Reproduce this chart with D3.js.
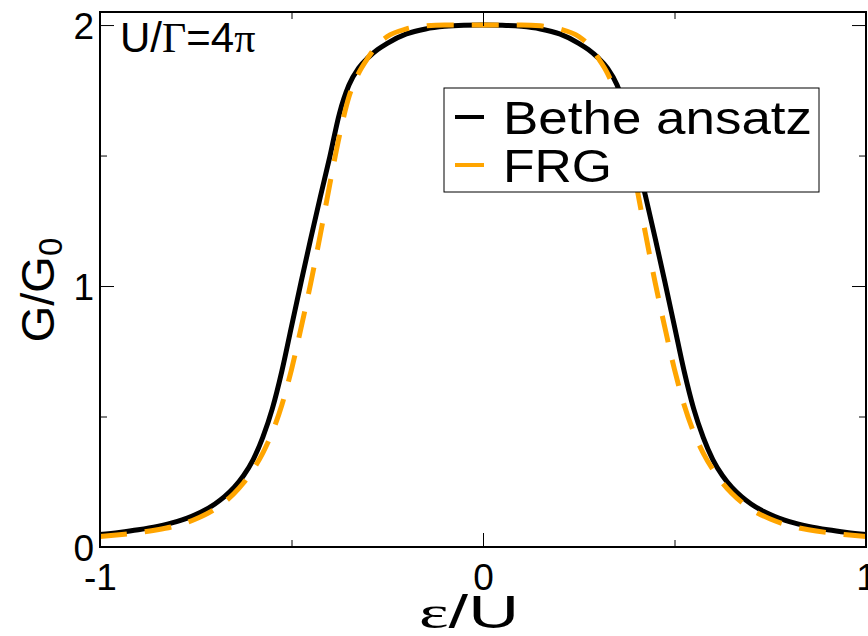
<!DOCTYPE html>
<html>
<head>
<meta charset="utf-8">
<script src="https://cdn.jsdelivr.net/npm/d3@7"></script>
<style>
  body { margin: 0; background: #fff; }
  svg text { font-family: "Liberation Sans", Arial, sans-serif; }
  .greek { font-family: "Liberation Serif", "Times New Roman", serif; }
</style>
</head>
<body>
<div id="chart"></div>
<script>
// values (the curves are symmetric about eps = 0)
var epsBethe = [-1.000, -0.950, -0.900, -0.850, -0.800, -0.750, -0.700, -0.675, -0.650, -0.625,
                -0.600, -0.575, -0.550, -0.525, -0.500, -0.475, -0.450, -0.425, -0.400, -0.375,
                -0.350, -0.325, -0.300, -0.275, -0.250, -0.200, -0.150, -0.100, -0.050, 0.000,
                0.050, 0.100, 0.150, 0.200, 0.250, 0.275, 0.300, 0.325, 0.350, 0.375,
                0.400, 0.425, 0.450, 0.475, 0.500, 0.525, 0.550, 0.575, 0.600, 0.625,
                0.650, 0.675, 0.700, 0.750, 0.800, 0.850, 0.900, 0.950, 1.000];
var gBethe = [0.048, 0.056, 0.066, 0.079, 0.097, 0.124, 0.165, 0.193, 0.228, 0.274,
              0.335, 0.420, 0.530, 0.675, 0.845, 1.015, 1.180, 1.340, 1.495, 1.660,
              1.770, 1.835, 1.875, 1.906, 1.930, 1.966, 1.985, 1.995, 1.999, 2.000,
              1.999, 1.995, 1.985, 1.966, 1.930, 1.906, 1.875, 1.835, 1.770, 1.660,
              1.495, 1.340, 1.180, 1.015, 0.845, 0.675, 0.530, 0.420, 0.335, 0.274,
              0.228, 0.193, 0.165, 0.124, 0.097, 0.079, 0.066, 0.056, 0.048];

var epsFRG = [-1.000, -0.950, -0.900, -0.850, -0.800, -0.750, -0.700, -0.675, -0.650, -0.625,
              -0.600, -0.575, -0.550, -0.525, -0.500, -0.475, -0.450, -0.425, -0.400, -0.375,
              -0.350, -0.325, -0.300, -0.275, -0.250, -0.200, -0.150, -0.100, 0.000,
              0.100, 0.150, 0.200, 0.250, 0.275, 0.300, 0.325, 0.350, 0.375,
              0.400, 0.425, 0.450, 0.475, 0.500, 0.525, 0.550, 0.575, 0.600, 0.625,
              0.650, 0.675, 0.700, 0.750, 0.800, 0.850, 0.900, 0.950, 1.000];
var gFRG = [0.040, 0.047, 0.055, 0.066, 0.082, 0.107, 0.145, 0.172, 0.205, 0.246,
            0.297, 0.360, 0.440, 0.545, 0.680, 0.840, 1.010, 1.195, 1.390, 1.575,
            1.725, 1.815, 1.875, 1.925, 1.956, 1.985, 1.997, 2.000, 2.000,
            2.000, 1.997, 1.985, 1.956, 1.925, 1.875, 1.815, 1.725, 1.575,
            1.390, 1.195, 1.010, 0.840, 0.680, 0.545, 0.440, 0.360, 0.297, 0.246,
            0.205, 0.172, 0.145, 0.107, 0.082, 0.066, 0.055, 0.047, 0.040];

var xMajor = [-1, 0, 1];
var xMinor = [-0.5, 0.5];
var yMajor = [0, 1, 2];
var yMinor = [0.5, 1.5];
var seriesNames = ["Bethe ansatz", "FRG"];
var seriesColors = ["#000000", "#ffa500"];

var width = 868, height = 636;
var pLeft = 100, pRight = 866, pTop = 12, pBottom = 547;

var svg = d3.select("#chart").append("svg")
    .attr("width", width)
    .attr("height", height);

var x = d3.scaleLinear().domain([-1, 1]).range([pLeft, pRight]);
var y = d3.scaleLinear().domain([0, 2.05]).range([pBottom, pTop]);

// curves
var line = d3.line()
    .x(function(d) { return x(d[0]); })
    .y(function(d) { return y(d[1]); })
    .curve(d3.curveMonotoneX);

var bethe = epsBethe.map(function(e, i) { return [e, gBethe[i]]; });
var frg = epsFRG.map(function(e, i) { return [e, gFRG[i]]; });

svg.append("path").datum(bethe)
    .attr("d", line)
    .attr("fill", "none")
    .attr("stroke", seriesColors[0])
    .attr("stroke-width", 5);

svg.append("path").datum(frg)
    .attr("d", line)
    .attr("fill", "none")
    .attr("stroke", seriesColors[1])
    .attr("stroke-width", 5)
    .attr("stroke-dasharray", "27,18");

// ticks, pointing inward on all four sides
var fmt = function(d) { return String(d); };   // plain hyphen, like the original
function ticks(axis, vals, size, tx, ty, labels) {
  var g = svg.append("g")
      .attr("transform", "translate(" + tx + "," + ty + ")")
      .call(axis.tickValues(vals).tickSize(-size).tickPadding(0)
            .tickFormat(labels ? fmt : ""));
  g.select(".domain").remove();
  g.selectAll(".tick line").attr("stroke", "#000").attr("stroke-width", 1);
  g.selectAll("text").attr("fill", "#000").attr("font-size", 37)
      .attr("font-family", "Liberation Sans, Arial, sans-serif");
  return g;
}
var gxb = ticks(d3.axisBottom(x), xMajor, 14, 0, pBottom, true);
gxb.selectAll("text").attr("dy", 0).attr("y", 43);
ticks(d3.axisBottom(x), xMinor, 7, 0, pBottom, false);
ticks(d3.axisTop(x), xMajor, 14, 0, pTop, false);
ticks(d3.axisTop(x), xMinor, 7, 0, pTop, false);
var gyl = ticks(d3.axisLeft(y), yMajor, 14, pLeft, 0, true);
gyl.selectAll("text").attr("x", -6).attr("dy", "0.36em");
ticks(d3.axisLeft(y), yMinor, 7, pLeft, 0, false);
ticks(d3.axisRight(y), yMajor, 14, pRight, 0, false);
ticks(d3.axisRight(y), yMinor, 7, pRight, 0, false);

// frame
svg.append("rect")
    .attr("x", pLeft).attr("y", pTop)
    .attr("width", pRight - pLeft).attr("height", pBottom - pTop)
    .attr("fill", "none")
    .attr("stroke", "#000")
    .attr("stroke-width", 2);

// axis titles
var yl = svg.append("text")
    .attr("transform", "translate(54,290) rotate(-90)")
    .attr("text-anchor", "middle")
    .attr("font-size", 47);
yl.append("tspan").text("G/G");
yl.append("tspan").attr("font-size", 33).attr("dy", 8).text("0");

var xl = svg.append("text")
    .attr("x", 469)
    .attr("y", 628)
    .attr("text-anchor", "middle")
    .attr("font-size", 47)
    .attr("textLength", 100)
    .attr("lengthAdjust", "spacingAndGlyphs");
xl.append("tspan").attr("class", "greek").text("\u03b5");
xl.append("tspan").text("/U");

// annotation
var ann = svg.append("text")
    .attr("x", 120).attr("y", 52)
    .attr("font-size", 42);
ann.append("tspan").text("U/");
ann.append("tspan").attr("class", "greek").text("\u0393");
ann.append("tspan").text("=4");
ann.append("tspan").attr("class", "greek").text("\u03c0");

// legend
var lg = svg.append("g");
lg.append("rect")
    .attr("x", 444).attr("y", 88)
    .attr("width", 375).attr("height", 104)
    .attr("fill", "#fff")
    .attr("stroke", "#000")
    .attr("stroke-width", 1);
var legY = [117, 165];
var legW = [309, 109];
seriesNames.forEach(function(name, i) {
  lg.append("line")
      .attr("x1", 455).attr("x2", 484)
      .attr("y1", legY[i]).attr("y2", legY[i])
      .attr("stroke", seriesColors[i])
      .attr("stroke-width", 4);
  lg.append("text")
      .attr("x", 503).attr("y", legY[i] + 17)
      .attr("font-size", 47)
      .attr("textLength", legW[i])
      .attr("lengthAdjust", "spacingAndGlyphs")
      .text(name);
});
</script>
</body>
</html>
